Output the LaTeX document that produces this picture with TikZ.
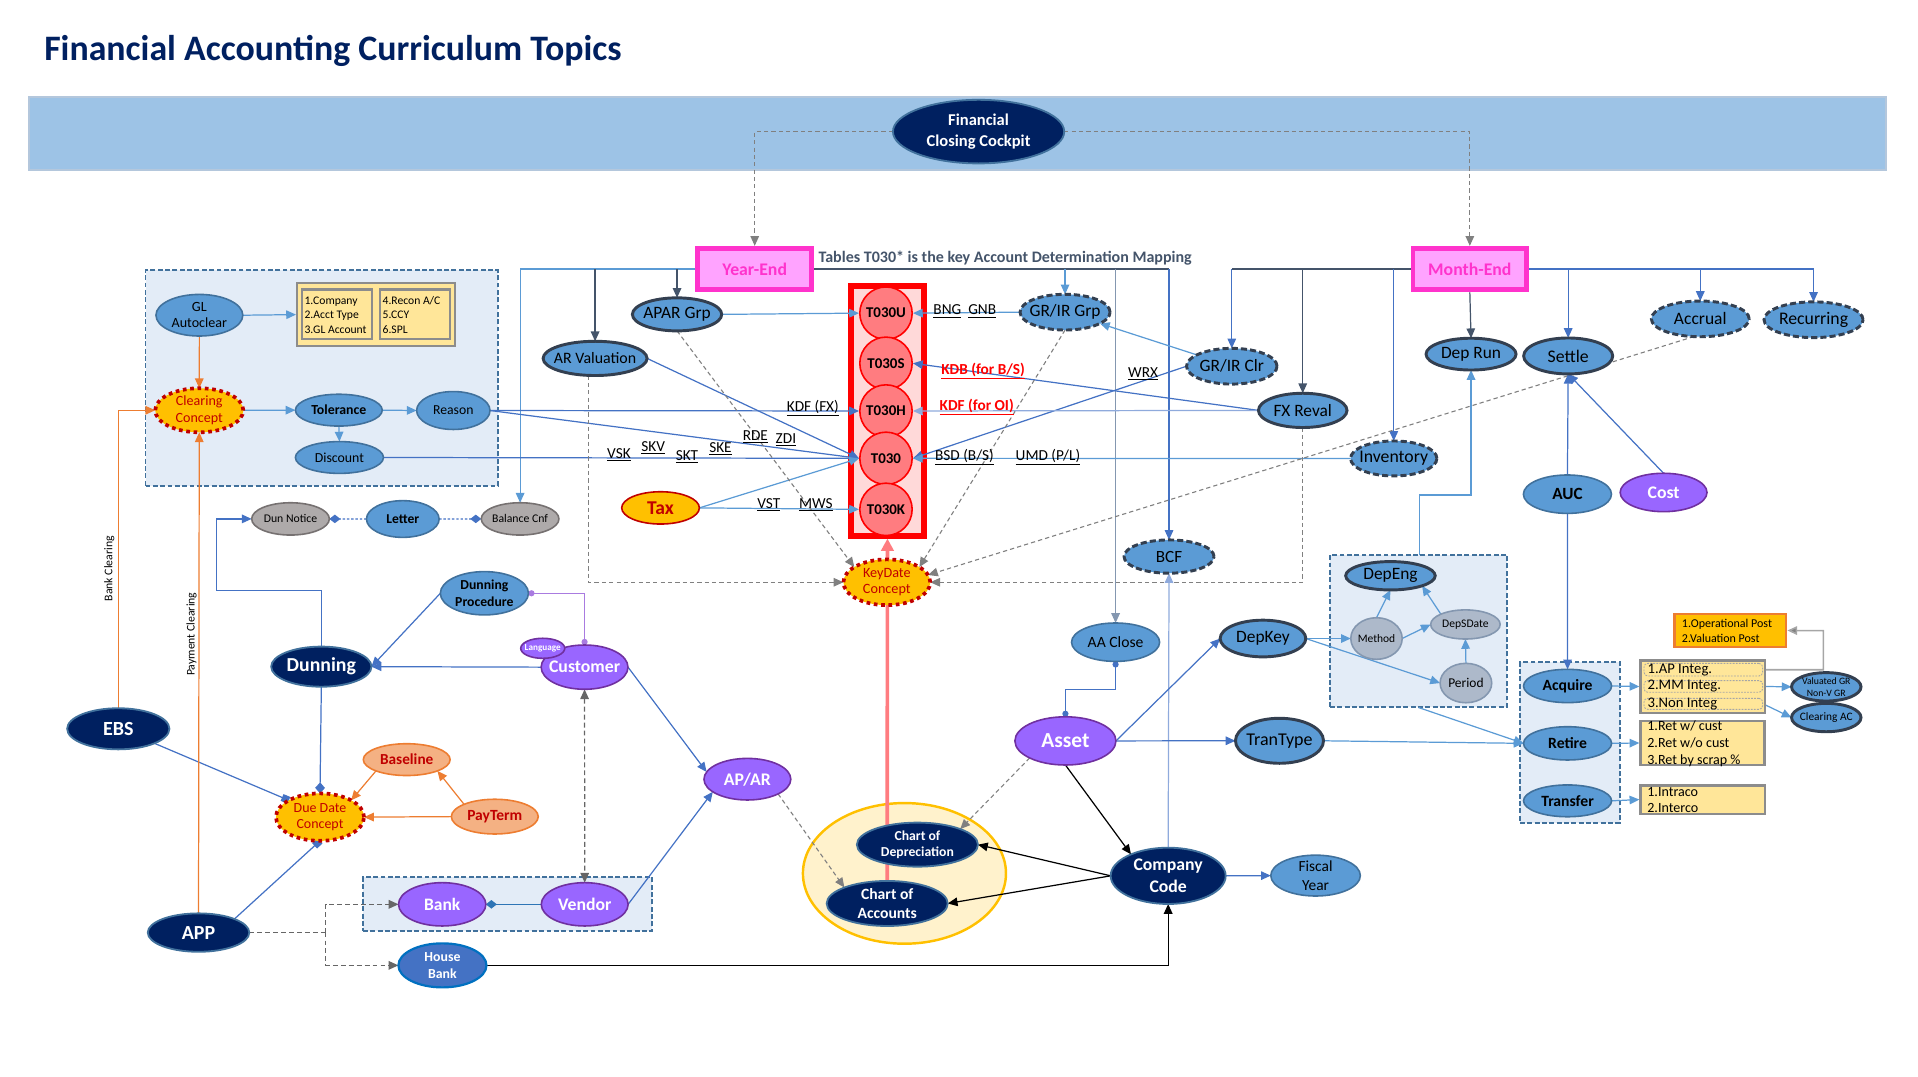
\documentclass[tikz,border=0pt]{standalone}
\usepackage{fontspec}
\setmainfont{Carlito}
\usetikzlibrary{shapes.geometric,arrows.meta,calc}
\pgfdeclarelayer{back}\pgfdeclarelayer{conn}\pgfsetlayers{back,conn,main}
\definecolor{cNavy}{HTML}{002060}
\definecolor{cBlue}{HTML}{5B9BD5}
\definecolor{cBlueB}{HTML}{41719C}
\definecolor{cLine}{HTML}{4472C4}
\definecolor{cBlueL}{HTML}{8FAADC}
\definecolor{cBlueM}{HTML}{2E75B6}
\definecolor{cDark}{HTML}{44546A}
\definecolor{cDarkB}{HTML}{333F50}
\definecolor{cPurp}{HTML}{9966FF}
\definecolor{cPurpB}{HTML}{7030A0}
\definecolor{cPurpL}{HTML}{A97BE0}
\definecolor{cGray}{HTML}{AEAAAA}
\definecolor{cGrayB}{HTML}{767171}
\definecolor{cGr2}{HTML}{ADB9CA}
\definecolor{cGr2B}{HTML}{8497B0}
\definecolor{cGold}{HTML}{FFC000}
\definecolor{cRed}{HTML}{C00000}
\definecolor{cOrF}{HTML}{F4B183}
\definecolor{cOr}{HTML}{ED7D31}
\definecolor{cMag}{HTML}{FF33CC}
\definecolor{cMagF}{HTML}{FFA3FF}
\definecolor{cPinkC}{HTML}{FF7C80}
\definecolor{cBoxF}{HTML}{FFD9D9}
\definecolor{cList}{HTML}{FFE699}
\definecolor{cBand}{HTML}{9DC3E6}
\definecolor{cBandB}{HTML}{B4C7DC}
\definecolor{cCont}{HTML}{E3ECF7}
\definecolor{cYel}{HTML}{FFF2CC}
\definecolor{cDash}{HTML}{808080}
\definecolor{cHBB}{HTML}{0070C0}
\definecolor{cListB}{HTML}{8C8C8C}
\newcommand{\fsz}[2]{\fontsize{#1}{#2}\selectfont}
\newcommand{\EN}[7]{\node[#1,minimum width=#4pt,minimum height=#5pt] (#2) at (#3) {};
  \node[#6] (#2-t) at (#2.center) {#7};}
\tikzset{
  el/.style={ellipse, inner sep=0pt, outer sep=0pt},
  sBlue/.style={el, fill=cBlue, draw=cBlueB, line width=1.3pt},
  sBlueK/.style={el, fill=cBlue, draw=cDarkB, line width=2.4pt},
  sBlueD/.style={sBlueK, dash pattern=on 5pt off 2.5pt},
  sNavy/.style={el, fill=cNavy, draw=cBlueB, line width=1.5pt},
  sPurp/.style={el, fill=cPurp, draw=cPurpB, line width=1.3pt},
  sGray/.style={el, fill=cGray, draw=cGrayB, line width=1.3pt},
  sGray2/.style={el, fill=cGr2, draw=cGr2B, line width=1.3pt},
  sConc/.style={el, fill=cGold, draw=cRed, line width=3pt, dash pattern=on 3pt off 3pt},
  sOr/.style={el, fill=cOrF, draw=cOr, line width=1.3pt},
  sTax/.style={el, fill=cGold, draw=cRed, line width=1.3pt},
  sHB/.style={el, fill=cLine, draw=cHBB, line width=1.8pt},
  sCirc/.style={circle, inner sep=0pt, minimum size=42.8pt, fill=cPinkC, draw=red, line width=1.3pt, font=\bfseries\fsz{12.2}{14}},
  sMag/.style={rectangle, inner sep=0pt, fill=cMagF, draw=cMag, line width=4pt, minimum width=93pt, minimum height=34pt, text=cMag, font=\bfseries\fsz{14.5}{16}},
  cont/.style={rectangle, inner sep=0pt, fill=cCont, draw=cBlueB, line width=1.5pt, dash pattern=on 4pt off 2pt},
  lbox/.style={rectangle, inner sep=0pt, fill=cList, draw=cListB, line width=2pt},
  ibox/.style={rectangle, inner sep=0pt, draw=cListB, line width=1.8pt},
  dbox/.style={rectangle, inner sep=0pt, draw=black!35, line width=0.7pt, dash pattern=on 1.5pt off 1pt, rounded corners=3pt},
  ltxt/.style={anchor=west, align=left, inner sep=0pt},
  tx/.style={align=center, inner sep=0pt, text=black},
  tw/.style={tx, text=white},
  tr/.style={tx, text=cRed},
  lab/.style={inner sep=0pt, font=\fsz{12.5}{14}},
  labR/.style={lab, text=red, font=\bfseries\fsz{12.5}{14}},
  con/.style={draw=cLine, line width=1pt},
  arr/.style={-{Triangle[length=8pt,width=7pt]}},
  dgray/.style={draw=cDash, line width=0.9pt, dash pattern=on 3.5pt off 2.5pt},
  dgray2/.style={draw=black!60, line width=1pt, dash pattern=on 4pt off 2.5pt},
  orl/.style={draw=cOr, line width=1pt},
  blk/.style={draw=black, line width=1pt},
}
\begin{document}
\begin{tikzpicture}[x=1pt,y=-1pt]
\useasboundingbox (0,0) rectangle (1568,880);
% ---------- backgrounds ----------
\begin{pgfonlayer}{back}
\node[rectangle, inner sep=0pt, fill=cBand, draw=cBandB, line width=1.5pt, minimum width=1518pt, minimum height=60pt] (band) at (783,109) {};
\node[cont, minimum width=288pt, minimum height=176pt] (glcont) at (263,309) {};
\node[cont, minimum width=144.9pt, minimum height=124pt] (depbox) at (1159.75,515.7) {};
\node[cont, minimum width=236.2pt, minimum height=43.9pt] (bankbox) at (414.9,739.15) {};
\node[cont, minimum width=81.8pt, minimum height=131pt] (acqbox) at (1283.5,607) {};
\node[ellipse, inner sep=0pt, fill=cYel, draw=cGold, line width=2pt, minimum width=166pt, minimum height=115pt] (chartbg) at (739.4,714) {};
\node[rectangle, inner sep=0pt, fill=cBoxF, draw=red, line width=4.5pt, minimum width=60pt, minimum height=204pt] (tbox) at (725.5,336) {};
\end{pgfonlayer}
% ---------- title ----------
\node[anchor=west, inner sep=0pt, text=cNavy, font=\bfseries\fsz{29.3}{33}] (title) at (36,42) {Financial Accounting Curriculum Topics};
\EN{sNavy}{cp}{800,107.6}{140}{52}{tw,font=\bfseries\fsz{13.5}{17.5}}{Financial\\Closing Cockpit}
\node[sMag] (ye) at (617,220) {Year-End};
\node[sMag] (me) at (1201.6,220) {Month-End};
\node[anchor=west, inner sep=0pt, text=cDark, font=\bfseries\fsz{13.1}{15}] (tbl) at (669,211) {Tables T030* is the key Account Determination Mapping};
% ---------- GL area ----------
\EN{sBlue}{gl}{163,257.7}{71}{34}{tx,font=\fsz{11.5}{13.5}}{GL\\Autoclear}
\node[lbox, minimum width=128.8pt, minimum height=51.7pt] (glbox) at (307.4,257.2) {};
\node[ibox, minimum width=57.5pt, minimum height=40.5pt] (glb1) at (275.5,256.9) {};
\node[ibox, minimum width=57.5pt, minimum height=40.5pt] (glb2) at (339.3,256.9) {};
\node[ltxt, font=\fsz{9.5}{11.7}] (glt1) at (248.8,257.5) {1.Company\\2.Acct Type\\3.GL Account};
\node[ltxt, font=\fsz{9.5}{11.7}] (glt2) at (312.6,257.5) {4.Recon A/C\\5.CCY\\6.SPL};
\EN{sConc}{cc}{162.9,335.4}{72}{36}{tr,font=\fsz{11.5}{13.5}}{Clearing\\Concept}
\EN{sBlue}{tol}{277,335.3}{71}{26}{tx,font=\bfseries\fsz{11.3}{13}}{Tolerance}
\EN{sBlue}{rea}{370.6,335.6}{60}{31}{tx,font=\fsz{11.2}{13}}{Reason}
\EN{sBlue}{dis}{277.5,374}{72}{26}{tx,font=\fsz{11.3}{13}}{Discount}
% ---------- Year-End side ----------
\EN{sBlueK}{apar}{553.5,257}{73}{27}{tx,font=\fsz{14.2}{16}}{APAR Grp}
\EN{sBlueK}{arv}{486.5,293}{85}{28}{tx,font=\fsz{13}{15}}{AR Valuation}
\EN{sTax}{tax}{540,415.2}{63.5}{26.4}{tx,text=cRed,font=\bfseries\fsz{16}{18}}{Tax}
\node[sCirc] (t030u) at (724.3,256) {T030U};
\node[sCirc] (t030s) at (724.3,297) {T030S};
\node[sCirc] (t030h) at (724.3,336) {T030H};
\node[sCirc] (t030) at (724.3,374.7) {T030};
\node[sCirc] (t030k) at (724.3,416.4) {T030K};
\EN{sBlueD}{grg}{870.7,255.2}{73.6}{29.2}{tx,font=\fsz{14.2}{16}}{GR/IR Grp}
\EN{sBlueD}{grc}{1007,299.4}{74}{29.2}{tx,font=\fsz{14.2}{16}}{GR/IR Clr}
\EN{sBlueK}{fx}{1065,335.5}{72.4}{28}{tx,font=\fsz{14.2}{16}}{FX Reval}
% ---------- Month-End side ----------
\EN{sBlueK}{deprun}{1202.6,289.5}{73.6}{26}{tx,font=\fsz{14.2}{16}}{Dep Run}
\EN{sBlueK}{settle}{1282,291}{72.8}{29.4}{tx,font=\fsz{14.5}{16}}{Settle}
\EN{sBlueD}{acc}{1390,260.7}{80}{29.2}{tx,font=\fsz{14.3}{16}}{Accrual}
\EN{sBlueD}{rec}{1482.6,261.4}{81}{29.2}{tx,font=\fsz{14.5}{16}}{Recurring}
\EN{sBlueD}{inv}{1139.4,374.8}{70.6}{28.6}{tx,font=\fsz{14.5}{16}}{Inventory}
\EN{sBlue}{auc}{1281.4,404}{72}{31.4}{tx,font=\bfseries\fsz{14}{16}}{AUC}
\EN{sPurp}{cost}{1360,402.6}{71}{31.4}{tw,font=\bfseries\fsz{14.5}{16}}{Cost}
% ---------- asset area ----------
\EN{sBlueD}{bcf}{955.7,455}{73.6}{27.2}{tx,font=\fsz{14}{16}}{BCF}
\EN{sBlue}{aac}{912,525}{72}{31.4}{tx,font=\fsz{12.8}{15}}{AA Close}
\EN{sPurp}{asset}{871,605.7}{82.6}{39.4}{tw,font=\bfseries\fsz{17.5}{20}}{Asset}
\EN{sBlueK}{depkey}{1032.5,522}{70}{30}{tx,font=\fsz{14.2}{16}}{DepKey}
\EN{sBlueK}{tran}{1046,605.6}{72}{36.8}{tx,font=\fsz{14.7}{16}}{TranType}
\EN{sBlueK}{depeng}{1136.7,470.7}{73.2}{23.2}{tx,font=\fsz{14.2}{16}}{DepEng}
\EN{sGray2}{method}{1125.3,522}{42}{34}{tx,font=\fsz{9.4}{11}}{Method}
\EN{sGray2}{dsd}{1198,510.5}{56.8}{23.8}{tx,font=\fsz{9.5}{11}}{DepSDate}
\EN{sGray2}{period}{1198.4,558.4}{42.2}{32.2}{tx,font=\fsz{11}{13}}{Period}
\EN{sBlue}{acq}{1281.5,560.8}{72}{27.2}{tx,font=\bfseries\fsz{12.8}{15}}{Acquire}
\EN{sBlue}{ret}{1281.5,607.7}{72}{27.2}{tx,font=\bfseries\fsz{12.8}{15}}{Retire}
\EN{sBlue}{tra}{1281.5,654.7}{72}{26}{tx,font=\bfseries\fsz{12.8}{15}}{Transfer}
\node[lbox, minimum width=101.6pt, minimum height=42.9pt] (lb1) at (1392,561.25) {};
\node[dbox, minimum width=97pt, minimum height=10.3pt] (li1) at (1392.5,547.5) {};
\node[dbox, minimum width=97pt, minimum height=9.5pt] (li2) at (1392.5,561.2) {};
\node[dbox, minimum width=97pt, minimum height=9pt] (li3) at (1392.5,575.4) {};
\node[ltxt, font=\fsz{12}{14}] (li1-t) at (1346.7,547.5) {1.AP Integ.};
\node[ltxt, font=\fsz{12}{14}] (li2-t) at (1346.7,561.2) {2.MM Integ.};
\node[ltxt, font=\fsz{12}{14}] (li3-t) at (1346.7,575.4) {3.Non Integ};
\node[lbox, minimum width=101.3pt, minimum height=35.6pt] (lb2) at (1391.85,607.4) {};
\node[ltxt, font=\fsz{11.5}{13.9}] (lb2-t) at (1346.5,607.9) {1.Ret w/ cust\\2.Ret w/o cust\\3.Ret by scrap \%};
\node[lbox, minimum width=101.6pt, minimum height=23.3pt] (lb3) at (1392,653.65) {};
\node[ltxt, font=\fsz{11.5}{13.6}] (lb3-t) at (1346.5,654) {1.Intraco\\2.Interco};
\node[rectangle, inner sep=0pt, fill=cGold, draw=cOr, line width=2pt, minimum width=91.2pt, minimum height=27.1pt] (ops) at (1414.6,515.45) {};
\node[ltxt, font=\fsz{9.8}{12}] (ops-t) at (1374.8,515.6) {1.Operational Post\\2.Valuation Post};
\EN{sBlueK}{valgr}{1493,561.5}{56.8}{23.2}{tx,font=\fsz{8}{10}}{Valuated GR\\Non-V GR}
\EN{sBlueK}{clrac}{1493,586.6}{56.8}{23.2}{tx,font=\fsz{9.3}{11}}{Clearing AC}
% ---------- centre ----------
\EN{sConc}{kd}{725,476}{71}{37.4}{tr,font=\fsz{11.6}{13.5}}{KeyDate\\Concept}
\EN{sNavy}{cod}{750,690.5}{99}{36}{tw,font=\bfseries\fsz{11.2}{13.5}}{Chart of\\Depreciation}
\EN{sNavy}{coa}{725.3,738.6}{99}{36.8}{tw,font=\bfseries\fsz{12.8}{15.5}}{Chart of\\Accounts}
\EN{sNavy}{ccode}{955,716}{94}{46}{tw,font=\bfseries\fsz{14.5}{17.5}}{Company\\Code}
\EN{sBlue}{fy}{1075.5,715.8}{73.2}{33.4}{tx,font=\fsz{12.6}{15}}{Fiscal\\Year}
% ---------- left ----------
\EN{sNavy}{ebs}{96.7,595.8}{83.6}{33.6}{tw,font=\bfseries\fsz{16.4}{19}}{EBS}
\EN{sNavy}{app}{162.3,762.4}{83}{31.4}{tw,font=\bfseries\fsz{16.3}{19}}{APP}
\EN{sGray}{dn}{237.5,424.2}{63.5}{26.4}{tx,font=\fsz{9.6}{11}}{Dun Notice}
\EN{sBlue}{let}{329.3,424.3}{59.4}{30}{tx,font=\bfseries\fsz{11.1}{13}}{Letter}
\EN{sGray}{bal}{425.2,424.2}{63.5}{26.4}{tx,font=\fsz{9.6}{11}}{Balance Cnf}
\EN{sBlue}{dp}{396,485}{72}{35.4}{tx,font=\bfseries\fsz{11.2}{13.5}}{Dunning\\Procedure}
\EN{sNavy}{dun}{262.7,545}{82}{32.8}{tw,font=\bfseries\fsz{16.2}{19}}{Dunning}
\EN{sPurp}{cust}{477.9,545.4}{71}{36.2}{tw,font=\bfseries\fsz{14.5}{17}}{Customer}
\EN{sPurp}{lang}{443.7,530}{36}{16.4}{tw,font=\bfseries\fsz{7.5}{9}}{Language}
\EN{sPurp}{apar2}{611,637}{71}{34}{tw,font=\bfseries\fsz{14.5}{17}}{AP/AR}
\EN{sConc}{due}{261.6,668}{72}{38.8}{tr,font=\fsz{11.4}{13.5}}{Due Date\\Concept}
\EN{sOr}{base}{332.5,621}{71}{26}{tr,font=\bfseries\fsz{12.5}{15}}{Baseline}
\EN{sOr}{pay}{404.5,667.6}{71}{28.4}{tr,font=\bfseries\fsz{12.7}{15}}{PayTerm}
\EN{sPurp}{bank}{361.5,739.3}{71.4}{35.4}{tw,font=\bfseries\fsz{14.3}{17}}{Bank}
\EN{sPurp}{ven}{478,739.3}{71}{35.4}{tw,font=\bfseries\fsz{14.5}{17}}{Vendor}
\EN{sHB}{hb}{361.7,789.2}{72}{36}{tw,font=\bfseries\fsz{11.3}{13.5}}{House\\Bank}
\node[font=\fsz{9.6}{11}, rotate=90, inner sep=0pt] (lbcl) at (89.4,465) {Bank Clearing};
\node[font=\fsz{9.6}{11}, rotate=90, inner sep=0pt] (lpcl) at (156.6,518.5) {Payment Clearing};
% ---------- coordinates ----------
\coordinate (k1) at (177,483);
\coordinate (k2) at (912,563.5);
\coordinate (k3a) at (1160.4,453.7);
\coordinate (k3b) at (1160.4,404.7);
\coordinate (k4) at (1490.6,515.6);
\coordinate (k6) at (266.4,762.4);
\coordinate (k7) at (481,0);
% ---------- connectors ----------
\begin{pgfonlayer}{conn}
\draw[dgray, arr] (cp.west) -| (ye.north);
\draw[dgray, arr] (cp.east) -| (me.north);
\draw[con, draw=cBlue, arr] (ye.west) -| (bal.north);
\draw[con, draw=cDark, arr] (ye.west -| arv.north) -- (arv.north);
\draw[con, draw=cDark, arr] (ye.west -| apar.north) -- (apar.north);
\draw[con, draw=cDark] (ye.east) -- (ye.east -| bcf.north);
\draw[con, arr] (ye.east -| bcf.north) -- (bcf.north);
\draw[con, draw=cBlue, arr] (ye.east -| grg.north) -- (grg.north);
\draw[con, draw=cGr2B, arr] (ye.east -| aac.north) -- (aac.north);
\draw[con, draw=cDark] (me.west) -- (me.west -| grc.north);
\draw[con, arr] (me.west -| grc.north) -- (grc.north);
\draw[con, draw=cDark, arr] (me.west -| fx.north) -- (fx.north);
\draw[con, arr] (me.west -| inv.north) -- (inv.north);
\draw[con, draw=cDark, arr] (me.south) -- (deprun.north);
\draw[con, arr] (me.east) -| (rec.north);
\draw[con, arr] (me.east -| settle.north) -- (settle.north);
\draw[con, arr] (me.east -| acc.north) -- (acc.north);
% GL
\draw[con, draw=cBlue, arr] (gl.east) -- (glbox.west);
\draw[orl, arr] (gl.south) -- (cc.north);
\draw[con, draw=cBlue, arr] (cc.east) -- (tol.west);
\draw[con, draw=cBlue, arr] (tol.east) -- (rea.west);
\draw[con, draw=cBlue, arr] (tol.south) -- (dis.north);
% T030
\draw[con, arr] (rea.east) -- (t030h.west);
\draw[con, arr] (rea.east) -- (t030.west);
\draw[con, arr] (dis.east) -- (t030.west);
\draw[con, arr] (arv.east) -- (t030.west);
\draw[con, draw=cBlue, arr] (apar.east) -- (t030u.west);
\draw[con, draw=cBlue, arr] (tax.east) -- (t030.west);
\draw[con, draw=cBlue, arr] (tax.east) -- (t030k.west);
\draw[con, draw=cBlue, arr] (grg.west) -- (t030u.east);
\draw[con, draw=cBlue, arr] (grc) -- (grg);
\draw[con, arr] (grc.west) -- (t030.east);
\draw[con, arr] (fx.west) -- (t030s.east);
\draw[con, draw=cBlueL, arr] (fx.west) -- (t030h.east);
\draw[con, draw=cBlue, arr] (inv.west) -- (t030.east);
% key date
\draw[dgray, arr] (arv.south -| k7) |- (kd.west);
\draw[dgray, arr] (fx.south) |- (kd.east);
\draw[dgray, arr] (apar.south) -- (kd.155);
\draw[dgray, arr] (grg.south) -- (kd.25);
\draw[dgray, arr] (acc.250) -- (kd.10);
\draw[draw=cPinkC, line width=3pt, -{Triangle[length=10pt,width=10pt]}] (coa.north) -- (tbox.south);
% left
\draw[con, arr] (dun.north) |- (k1) |- (dn.west);
\draw[con, dash pattern=on 2pt off 1.5pt, -{Diamond[length=9pt,width=7pt]}] (let.west) -- (dn.east);
\draw[con, dash pattern=on 2pt off 1.5pt, -{Diamond[length=9pt,width=7pt]}] (let.east) -- (bal.west);
\draw[con, arr] (dp.west) -- (dun.east);
\draw[con, arr] (cust.west) -- (dun.east);
\draw[draw=cPurpL, line width=1pt, {Circle[length=5pt]}-{Circle[length=5pt]}] (dp.east) -| (cust.north);
\draw[con, arr] (cust.east) -- (apar2.170);
\draw[con, arr] (ven.east) -- (apar2.200);
\draw[dgray2, {Triangle[length=8pt,width=7pt]}-{Triangle[length=8pt,width=7pt]}] (cust.south) -- (ven.north);
\draw[con, -{Diamond[length=9pt,width=8pt]}] (dun.south) -- (due.north);
\draw[con, -{Square[length=6pt,width=6pt]}] (ebs.south east) -- (due.north west);
\draw[con, -{Square[length=6pt,width=6pt]}] (app.north east) -- (due.south);
\draw[orl, arr] (ebs.north) |- (cc.west);
\draw[orl, arr] (app.north) -- (cc.south);
\draw[orl, arr] (base.south west) -- (due.north east);
\draw[orl, arr] (pay.north west) -- (base.south east);
\draw[orl, arr] (pay.west) -- (due.east);
\draw[con, draw=cBlueM, {Diamond[length=9pt,width=7pt]}-] (bank.east) -- (ven.west);
\draw[dgray2] (app.east) -- (k6);
\draw[dgray2, arr] (k6) |- (bank.west);
\draw[dgray2, arr] (k6) |- (hb.west);
\draw[blk, arr] (hb.east) -| (ccode.south);
% charts
\draw[dgray, arr] (apar2.south east) -- (coa.north west);
\draw[dgray, arr] (asset.south west) -- (cod.north east);
\draw[blk, arr] (asset.south) -- (ccode.150);
\draw[blk, arr] (ccode.west) -- (cod.east);
\draw[blk, arr] (ccode.west) -- (coa.east);
\draw[con, arr] (ccode.east) -- (fy.west);
\draw[con, draw=cBlueL, arr] (ccode.north) -- (bcf.south);
% asset
\draw[con, {Circle[length=5pt]}-{Circle[length=5pt]}] (asset.north) |- (k2) -- (aac.south);
\draw[con, arr] (asset.east) -- (depkey.west);
\draw[con, arr] (asset.east) -- (tran.west);
\draw[con, draw=cBlue, arr] (depkey.east) -- (method.west);
\draw[con, draw=cBlue, arr] (depkey.east) -- (period.west);
\draw[con, draw=cBlue, arr] (method.north) -- (depeng.south);
\draw[con, draw=cBlue, arr] (dsd.north west) -- (depeng.south east);
\draw[con, draw=cBlue, arr] (method.east) -- (dsd.west);
\draw[con, draw=cBlue, arr] (period.north) -- (dsd.south);
\draw[con, draw=cBlue, arr] (k3a) -- (k3b) -| (deprun.south);
\draw[con, draw=cBlue, arr] (depbox.south) -- (ret.west);
\draw[con, draw=cBlue, arr] (tran.east) -- (ret.west);
\draw[con, arr] (auc.north) -- (settle.south);
\draw[con, arr] (cost.north) -- (settle.south);
\draw[con, arr] (auc.south) -- (acq.north);
\draw[con, draw=cBlue, arr] (acq.east) -- (lb1.west);
\draw[con, draw=cBlue, arr] (ret.east) -- (lb2.west);
\draw[con, draw=cBlue, arr] (tra.east) -- (lb3.west);
\draw[con, draw=cBlue, arr] (li2.east) -- (valgr.west);
\draw[con, draw=cBlue, arr] (li3.east) -- (clrac.west);
\draw[draw=black!35, line width=1.3pt, -{Triangle[length=8pt,width=7pt,fill=cDash]}] (li1.east) -| (k4) -- (ops.east);
\end{pgfonlayer}
% ---------- labels ----------
\node[lab] (l-kdffx) at (664.5,334) {\underline{KDF (FX)}};
\node[lab] (l-rde) at (617.5,357) {\underline{RDE}};
\node[lab] (l-zdi) at (642.5,359.5) {\underline{ZDI}};
\node[lab] (l-vsk) at (506,372) {\underline{VSK}};
\node[lab] (l-skv) at (534,366) {\underline{SKV}};
\node[lab] (l-skt) at (561.6,373.5) {\underline{SKT}};
\node[lab] (l-ske) at (589,367) {\underline{SKE}};
\node[lab] (l-vst) at (628.5,413) {\underline{VST}};
\node[lab] (l-mws) at (667,413) {\underline{MWS}};
\node[lab] (l-bng) at (774.5,254.5) {\underline{BNG}};
\node[lab] (l-gnb) at (803,254.5) {\underline{GNB}};
\node[labR] (l-kdb) at (803.7,303.5) {\underline{KDB (for B/S)}};
\node[labR] (l-kdfoi) at (798.5,333) {\underline{KDF (for OI)}};
\node[lab] (l-wrx) at (934.5,306) {\underline{WRX}};
\node[lab] (l-bsd) at (788.5,373.5) {\underline{BSD (B/S)}};
\node[lab] (l-umd) at (856.7,373.5) {\underline{UMD (P/L)}};
\end{tikzpicture}
\end{document}
